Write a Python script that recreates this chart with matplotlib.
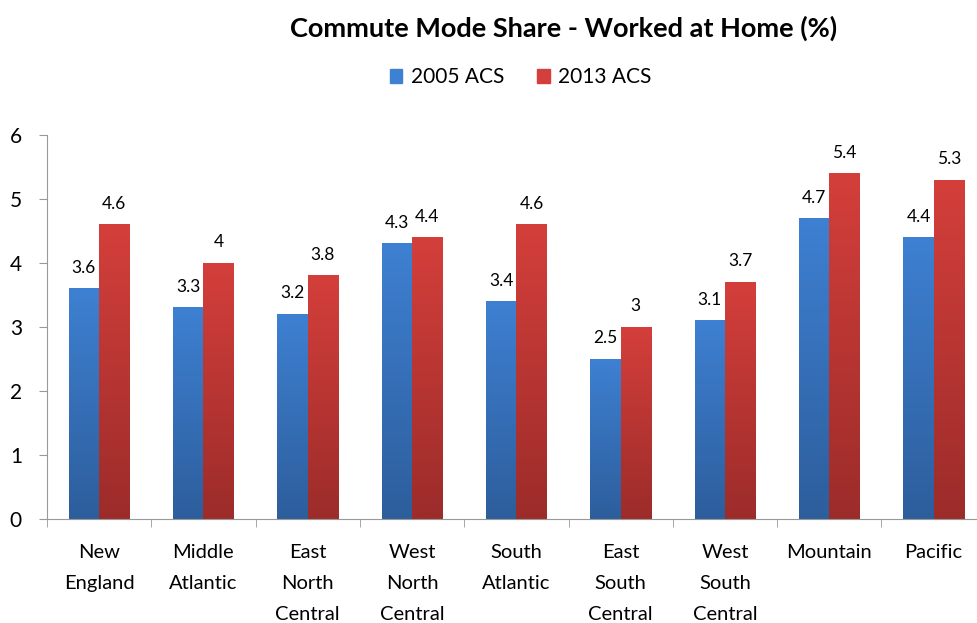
import numpy as np
import matplotlib.pyplot as plt
import matplotlib.colors as mcolors

plt.rcParams['font.family'] = ['Lato', 'DejaVu Sans']

regions = ["New\nEngland", "Middle\nAtlantic", "East\nNorth\nCentral", "West\nNorth\nCentral",
           "South\nAtlantic", "East\nSouth\nCentral", "West\nSouth\nCentral", "Mountain", "Pacific"]
acs_2005 = [3.6, 3.3, 3.2, 4.3, 3.4, 2.5, 3.1, 4.7, 4.4]
acs_2013 = [4.6, 4.0, 3.8, 4.4, 4.6, 3.0, 3.7, 5.4, 5.3]
series_names = ["2005 ACS", "2013 ACS"]

# (top colour, bottom colour) for the vertical gradient fill
gradients = [("#3e80d2", "#2d5e9c"), ("#d43f3b", "#9c2c2a")]

fig = plt.figure(figsize=(9.77, 6.23), dpi=100)
ax = fig.add_axes([0.048, 0.167, 0.961, 0.616])

x = np.arange(len(regions))
w = 0.29
grad = np.linspace(1, 0, 256).reshape(-1, 1)

for k, (vals, name) in enumerate(zip([acs_2005, acs_2013], series_names)):
    top, bottom = gradients[k]
    cmap = mcolors.LinearSegmentedColormap.from_list(name, [bottom, top])
    bars = ax.bar(x + (k - 0.5) * w, vals, w, color=top, label=name, zorder=2)
    for b, v in zip(bars, vals):
        b.set_facecolor("none")
        b.set_edgecolor("none")
        ax.imshow(grad, cmap=cmap, aspect="auto", zorder=2,
                  extent=(b.get_x(), b.get_x() + b.get_width(), 0, b.get_height()))
        ax.annotate(f"{v:g}", (b.get_x() + b.get_width() / 2, v), xytext=(0, 15),
                    textcoords="offset points", ha="center", va="center", fontsize=12.5)

ax.set_xlim(-0.5, len(regions) - 0.5)
ax.set_ylim(0, 6)
ax.set_yticks(range(0, 7))
ax.set_xticks(x)
ax.set_xticklabels(regions, fontsize=14.5, linespacing=2.0)
ax.set_xticks(np.arange(-0.5, len(regions), 1), minor=True)
ax.tick_params(axis="x", which="major", length=0, pad=18)
ax.tick_params(axis="x", which="minor", length=6, color="#999999", direction="out")
ax.tick_params(axis="y", labelsize=15, length=6, color="#999999", pad=12)

for side in ["top", "right"]:
    ax.spines[side].set_visible(False)
for side in ["left", "bottom"]:
    ax.spines[side].set_color("#999999")

fig.text(0.577, 0.955, "Commute Mode Share - Worked at Home (%)", ha="center", va="center",
         fontsize=19.5, fontweight="bold")

handles = [plt.Rectangle((0, 0), 1, 1, color=gradients[i][0]) for i in range(2)]
fig.legend(handles, series_names, loc="center", bbox_to_anchor=(0.533, 0.876), ncol=2,
           frameon=False, fontsize=15, handlelength=0.6, handleheight=0.6,
           handletextpad=0.4, columnspacing=1.6)

fig.savefig("out.png", dpi=100)
